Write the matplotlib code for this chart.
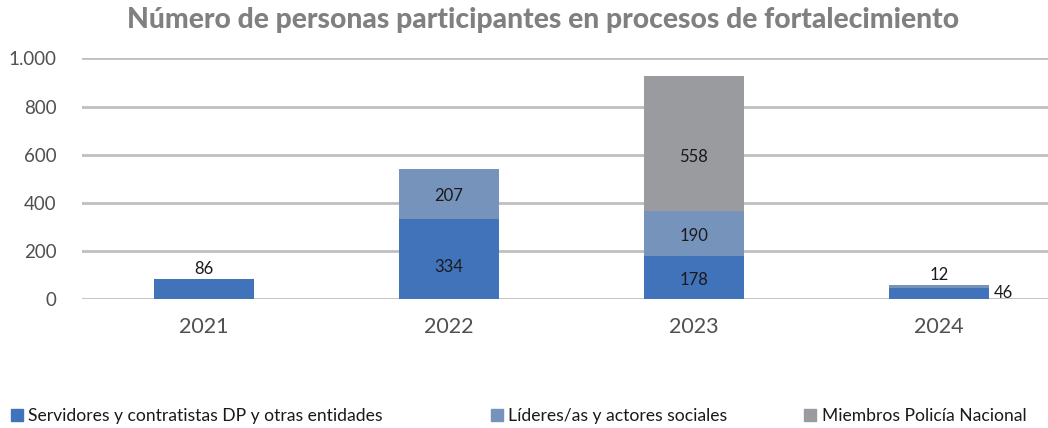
import matplotlib
matplotlib.use("Agg")
import matplotlib.pyplot as plt
from matplotlib.patches import Patch
import numpy as np

years = ["2021", "2022", "2023", "2024"]
servidores = [86, 334, 178, 46]
lideres = [0, 207, 190, 12]
policia = [0, 0, 558, 0]
series_names = ["Servidores y contratistas DP y otras entidades",
                "Líderes/as y actores sociales",
                "Miembros Policía Nacional"]
yticks = [0, 200, 400, 600, 800, 1000]
ytick_labels = ["0", "200", "400", "600", "800", "1.000"]

colors = ["#4173BB", "#7693BB", "#999B9E"]

plt.rcParams['font.family'] = ['Lato', 'DejaVu Sans']

W, H = 1048, 428
fig = plt.figure(figsize=(W / 100, H / 100), dpi=100)
ax_left, ax_right = 81.5, 1061.5
ax_top, ax_bot = 58.3, 299.3
ax = fig.add_axes([ax_left / W, 1 - ax_bot / H, (ax_right - ax_left) / W, (ax_bot - ax_top) / H])

x = np.arange(len(years))
width = 0.41
s = np.array(servidores)
l = np.array(lideres)
p = np.array(policia)
ax.bar(x, s, width, color=colors[0], zorder=3)
ax.bar(x, l, width, bottom=s, color=colors[1], zorder=3)
ax.bar(x, p, width, bottom=s + l, color=colors[2], zorder=3)

ax.set_xlim(-0.5, len(years) - 0.5)
ax.set_ylim(0, 1000)
ax.set_yticks(yticks)
ax.set_yticklabels(ytick_labels, fontsize=13.5, color="#505050")
ax.set_xticks(x)
ax.set_xticklabels(years, fontsize=15.5, color="#505050")
ax.tick_params(axis='both', length=0)
ax.tick_params(axis='y', pad=18)
ax.tick_params(axis='x', pad=13)
ax.grid(axis='y', color="#BFBFBF", linewidth=2, zorder=0)
for sp in ax.spines.values():
    sp.set_visible(False)

lab_fs = 12
lab_col = "#1a1a1a"


def seg_label(xi, yv, txt, dy_px):
    ax.annotate(txt, (xi, yv), xytext=(0, dy_px * 0.72), textcoords='offset points',
                ha='center', va='center', fontsize=lab_fs, color=lab_col, zorder=4)


# 2021
ax.text(x[0], s[0] + 8, str(servidores[0]), ha='center', va='bottom', fontsize=lab_fs, color=lab_col)
# 2022
seg_label(x[1], s[1] / 2, str(servidores[1]), -8)
seg_label(x[1], s[1] + l[1] / 2, str(lideres[1]), -2)
# 2023
seg_label(x[2], s[2] / 2, str(servidores[2]), -2)
seg_label(x[2], s[2] + l[2] / 2, str(lideres[2]), -2)
seg_label(x[2], s[2] + l[2] + p[2] / 2, str(policia[2]), -14)
# 2024
ax.text(x[3], s[3] + l[3] + 8, str(lideres[3]), ha='center', va='bottom', fontsize=lab_fs, color=lab_col)
ax.text(x[3] + width / 2 + 0.02, s[3] / 2 + 2, str(servidores[3]), ha='left', va='center', fontsize=lab_fs, color=lab_col)

fig.text(543 / W, 1 - 20 / H, "Número de personas participantes en procesos de fortalecimiento",
         ha='center', va='center', fontsize=20.3, fontweight='black', color="#808080")

leg_x = [11, 491, 804]
for name, c, lx in zip(series_names, colors, leg_x):
    fig.legend(handles=[Patch(color=c)], labels=[name], loc='center left',
               bbox_to_anchor=(lx / W, 1 - 416 / H), frameon=False,
               fontsize=12.6, handlelength=0.7, handleheight=0.7,
               handletextpad=0.3, borderpad=0, borderaxespad=0, labelcolor="#1a1a1a")

fig.savefig("out.png", dpi=100)
